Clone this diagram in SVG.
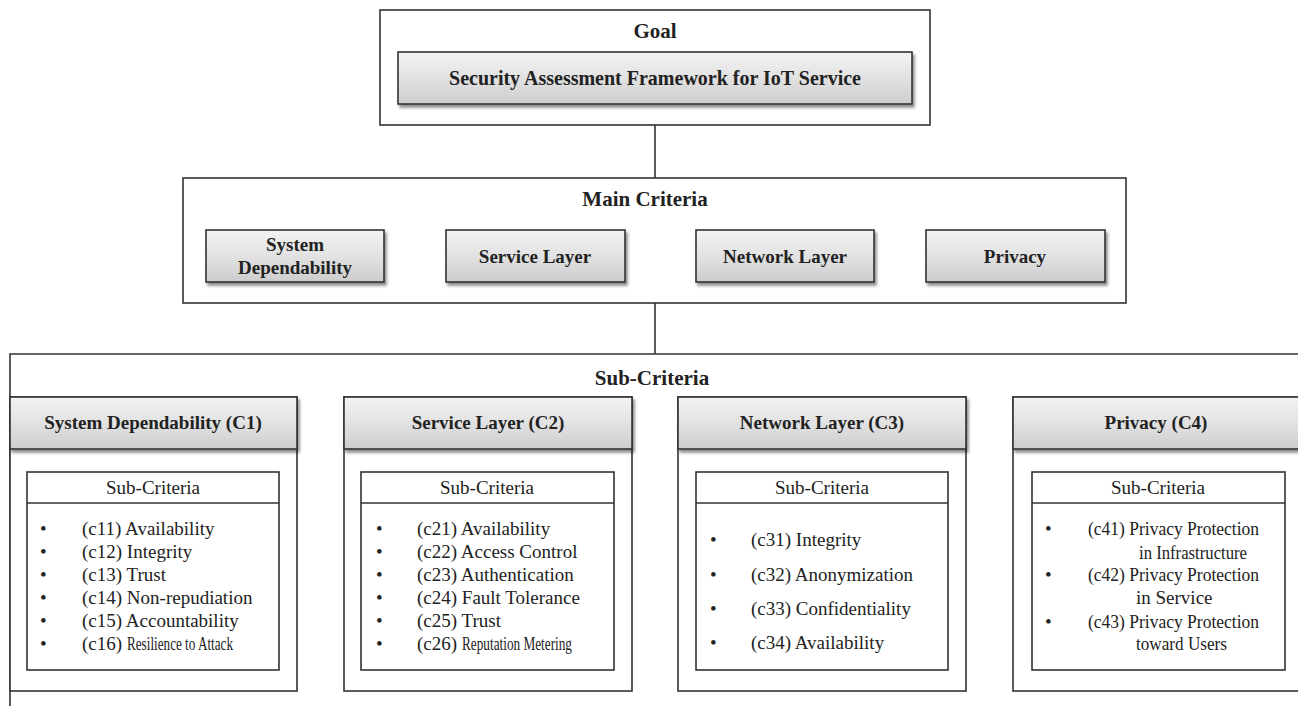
<svg xmlns="http://www.w3.org/2000/svg" width="1298" height="706" viewBox="0 0 1298 706">
<defs>
<linearGradient id="g" x1="0" y1="0" x2="0" y2="1">
<stop offset="0" stop-color="#f3f3f3"/>
<stop offset="0.5" stop-color="#e2e2e2"/>
<stop offset="1" stop-color="#cdcdcd"/>
</linearGradient>
<filter id="sh" x="-5%" y="-10%" width="115%" height="140%">
<feGaussianBlur in="SourceAlpha" stdDeviation="1.6"/>
<feOffset dx="1.5" dy="3" result="b"/>
<feComponentTransfer><feFuncA type="linear" slope="0.45"/></feComponentTransfer>
<feMerge><feMergeNode/><feMergeNode in="SourceGraphic"/></feMerge>
</filter>
</defs>
<style>
.frame{fill:#fff;stroke:#333;stroke-width:1.6}
.shade{fill:url(#g);stroke:#333;stroke-width:1.6;filter:url(#sh)}
.box{fill:#fff;stroke:#333;stroke-width:1.6}
.ln{stroke:#333;stroke-width:1.6;fill:none}
.t{font-family:"Liberation Serif","Times New Roman",serif;font-weight:bold;fill:#222;text-anchor:middle}
.title{font-size:21px}
.lbl{font-size:19px}
.s{font-family:"Liberation Serif","Times New Roman",serif;font-size:19px;fill:#222}
.sc{text-anchor:middle}
</style>

<g id="subcriteria-frame">
<path class="ln" d="M10,706 V354 H1300"/>
<text class="t title" x="652" y="385">Sub-Criteria</text>
</g>

<g id="connectors">
<line class="ln" x1="655" y1="125" x2="655" y2="178"/>
<line class="ln" x1="655" y1="303" x2="655" y2="354"/>
</g>

<g id="goal">
<rect class="frame" x="380" y="10" width="550" height="115"/>
<text class="t title" x="655" y="38">Goal</text>
<rect class="shade" x="398" y="52" width="514" height="52"/>
<text class="t" font-size="20" x="655" y="85">Security Assessment Framework for IoT Service</text>
</g>

<g id="main-criteria">
<rect class="frame" x="183" y="178" width="943" height="125"/>
<text class="t title" x="645" y="206">Main Criteria</text>
</g>
<g id="mc-system-dependability">
<rect class="shade" x="206" y="230" width="178" height="52"/>
<text class="t lbl" x="295" y="251">System</text>
<text class="t lbl" x="295" y="274">Dependability</text>
</g>
<g id="mc-service-layer">
<rect class="shade" x="446" y="230" width="179" height="52"/>
<text class="t lbl" x="535" y="263">Service Layer</text>
</g>
<g id="mc-network-layer">
<rect class="shade" x="696" y="230" width="178" height="52"/>
<text class="t lbl" x="785" y="263">Network Layer</text>
</g>
<g id="mc-privacy">
<rect class="shade" x="926" y="230" width="179" height="52"/>
<text class="t lbl" x="1015" y="263">Privacy</text>
</g>

<g id="c1">
<rect class="box" x="10" y="397" width="287" height="294"/>
<rect class="shade" x="10" y="397" width="287" height="52"/>
<text class="t lbl" x="153" y="429">System Dependability  (C1)</text>
<rect class="box" x="27" y="472" width="252" height="198"/>
<line class="ln" x1="27" y1="503" x2="279" y2="503"/>
<text class="s sc" x="153" y="494">Sub-Criteria</text>
<g class="s">
<text x="40" y="535">•</text><text x="82" y="535">(c11) Availability</text>
<text x="40" y="558">•</text><text x="82" y="558">(c12) Integrity</text>
<text x="40" y="581">•</text><text x="82" y="581">(c13) Trust</text>
<text x="40" y="604">•</text><text x="82" y="604">(c14) Non-repudiation</text>
<text x="40" y="627">•</text><text x="82" y="627">(c15) Accountability</text>
<text x="40" y="650">•</text><text x="82" y="650">(c16)</text><text x="127" y="650" textLength="106" lengthAdjust="spacingAndGlyphs">Resilience to Attack</text>
</g>
</g>

<g id="c2">
<rect class="box" x="344" y="397" width="288" height="294"/>
<rect class="shade" x="344" y="397" width="288" height="52"/>
<text class="t lbl" x="488" y="429">Service Layer (C2)</text>
<rect class="box" x="361" y="472" width="253" height="198"/>
<line class="ln" x1="361" y1="503" x2="614" y2="503"/>
<text class="s sc" x="487" y="494">Sub-Criteria</text>
<g class="s">
<text x="376" y="535">•</text><text x="417" y="535">(c21) Availability</text>
<text x="376" y="558">•</text><text x="417" y="558">(c22) Access Control</text>
<text x="376" y="581">•</text><text x="417" y="581">(c23) Authentication</text>
<text x="376" y="604">•</text><text x="417" y="604">(c24) Fault Tolerance</text>
<text x="376" y="627">•</text><text x="417" y="627">(c25) Trust</text>
<text x="376" y="650">•</text><text x="417" y="650">(c26)</text><text x="462" y="650" textLength="110" lengthAdjust="spacingAndGlyphs">Reputation Metering</text>
</g>
</g>

<g id="c3">
<rect class="box" x="678" y="397" width="288" height="294"/>
<rect class="shade" x="678" y="397" width="288" height="52"/>
<text class="t lbl" x="822" y="429">Network Layer (C3)</text>
<rect class="box" x="696" y="472" width="252" height="198"/>
<line class="ln" x1="696" y1="503" x2="948" y2="503"/>
<text class="s sc" x="822" y="494">Sub-Criteria</text>
<g class="s">
<text x="710" y="546">•</text><text x="751" y="546">(c31) Integrity</text>
<text x="710" y="581">•</text><text x="751" y="581">(c32) Anonymization</text>
<text x="710" y="615">•</text><text x="751" y="615">(c33) Confidentiality</text>
<text x="710" y="649">•</text><text x="751" y="649">(c34) Availability</text>
</g>
</g>

<g id="c4">
<rect class="box" x="1013" y="397" width="287" height="294"/>
<rect class="shade" x="1013" y="397" width="287" height="52"/>
<text class="t lbl" x="1156" y="429">Privacy (C4)</text>
<rect class="box" x="1032" y="472" width="253" height="198"/>
<line class="ln" x1="1032" y1="503" x2="1285" y2="503"/>
<text class="s sc" x="1158" y="494">Sub-Criteria</text>
<g class="s">
<text x="1045" y="535">•</text><text x="1088" y="535" textLength="171" lengthAdjust="spacingAndGlyphs">(c41) Privacy Protection</text>
<text x="1139" y="559" textLength="108" lengthAdjust="spacingAndGlyphs">in Infrastructure</text>
<text x="1045" y="581">•</text><text x="1088" y="581" textLength="171" lengthAdjust="spacingAndGlyphs">(c42) Privacy Protection</text>
<text x="1136" y="604">in Service</text>
<text x="1045" y="628">•</text><text x="1088" y="628" textLength="171" lengthAdjust="spacingAndGlyphs">(c43) Privacy Protection</text>
<text x="1136" y="650" textLength="91" lengthAdjust="spacingAndGlyphs">toward Users</text>
</g>
</g>
</svg>
